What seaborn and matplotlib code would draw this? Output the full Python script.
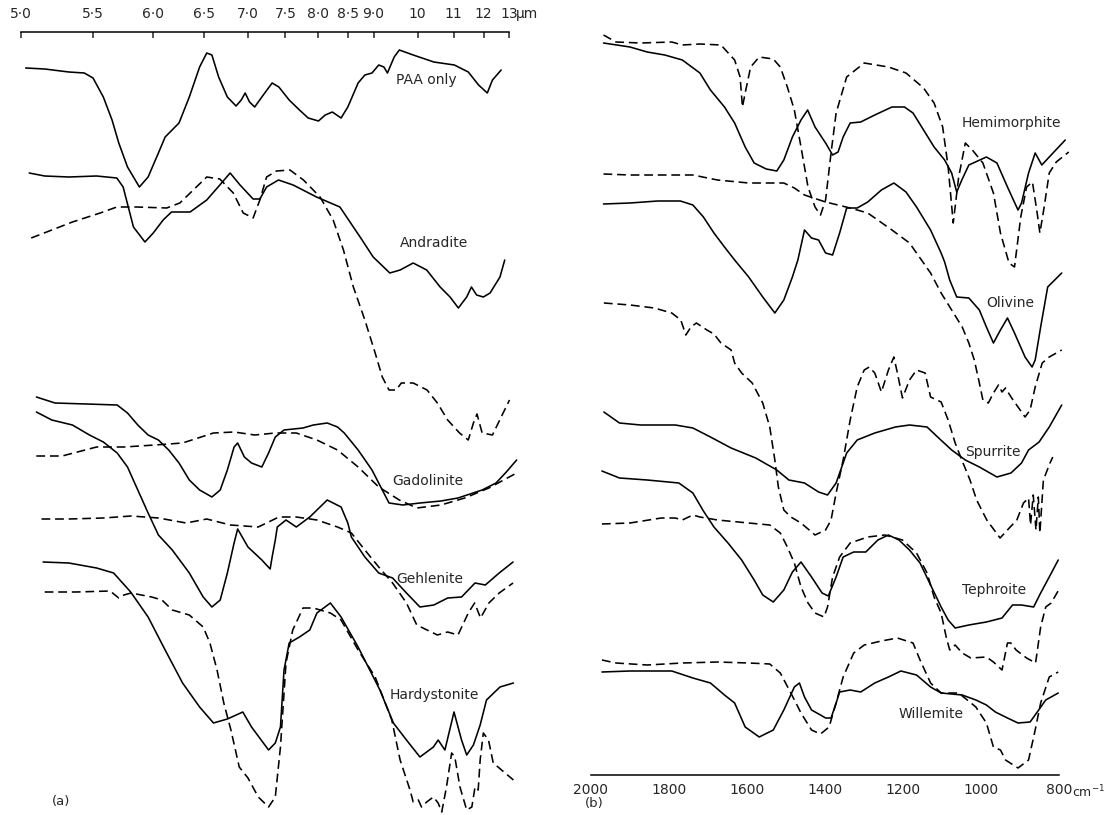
import pandas as pd
import seaborn as sns
import matplotlib.pyplot as plt

# Panel (a): wavenumber (cm-1) and trace height (arbitrary transmittance, stacked)
paa_nu = [1989, 1941, 1880, 1841, 1819, 1793, 1771, 1754, 1732, 1702, 1680, 1654, 1637, 1602, 1576,
          1550, 1532, 1519, 1502, 1480, 1458, 1445, 1435, 1424, 1411, 1393, 1367, 1350, 1324, 1298,
          1276, 1250, 1233, 1215, 1193, 1176, 1150, 1133, 1115, 1098, 1085, 1076, 1059, 1046, 1011,
          959, 907, 872, 846, 824, 811, 789]
paa_t = [747, 746, 743, 742, 737, 718, 695, 672, 648, 628, 638, 662, 678, 692, 718,
         748, 762, 760, 738, 718, 709, 715, 722, 713, 708, 718, 732, 728, 715, 705,
         697, 694, 700, 703, 697, 708, 732, 740, 742, 750, 748, 742, 758, 765, 760,
         753, 750, 743, 730, 722, 735, 745]

andr_s_nu = [1980, 1941, 1880, 1810, 1759, 1743, 1730, 1717, 1688, 1667, 1642, 1621, 1574, 1532, 1499,
             1473, 1448, 1415, 1398, 1381, 1351, 1314, 1255, 1196, 1179, 1145, 1112, 1070, 1044, 1011,
             977, 943, 918, 897, 876, 864, 851, 834, 817, 792, 780]
andr_s_t = [642, 639, 638, 639, 637, 628, 608, 588, 573, 582, 595, 603, 603, 615, 630,
            642, 630, 616, 616, 628, 635, 630, 618, 608, 598, 578, 558, 542, 545, 552,
            545, 528, 518, 507, 518, 528, 520, 518, 522, 538, 555]
andr_d_nu = [1975, 1923, 1871, 1801, 1759, 1709, 1633, 1600, 1532, 1499, 1465, 1440, 1415, 1398, 1381,
             1356, 1322, 1288, 1246, 1213, 1187, 1162, 1133, 1107, 1089, 1072, 1054, 1041, 1011, 976,
             950, 924, 894, 872, 859, 850, 837, 811, 789, 768]
andr_d_t = [577, 585, 593, 602, 608, 608, 607, 612, 638, 636, 622, 602, 597, 615, 638,
            644, 645, 635, 618, 595, 565, 528, 495, 462, 438, 425, 425, 432, 432, 425,
            412, 395, 382, 375, 392, 401, 382, 380, 398, 415]

gado_s_nu = [1962, 1915, 1836, 1758, 1732, 1706, 1680, 1654, 1628, 1602, 1576, 1550, 1519, 1498, 1480,
             1463, 1454, 1437, 1419, 1393, 1376, 1359, 1337, 1289, 1263, 1228, 1202, 1185, 1150, 1115,
             1089, 1072, 1037, 994, 941, 898, 837, 802, 776, 750]
gado_s_t = [418, 412, 411, 410, 402, 390, 380, 375, 365, 352, 335, 325, 318, 325, 345,
            368, 372, 358, 352, 348, 362, 378, 385, 387, 390, 392, 388, 382, 365, 345,
            325, 312, 310, 312, 314, 317, 325, 332, 343, 355]
gado_d_nu = [1962, 1897, 1810, 1741, 1663, 1593, 1515, 1463, 1411, 1359, 1306, 1254, 1202, 1150, 1098,
             1046, 1002, 941, 881, 820, 750]
gado_d_t = [359, 359, 368, 368, 370, 372, 382, 383, 380, 382, 382, 375, 365, 348, 328,
            315, 307, 310, 317, 327, 342]

gehl_s_nu = [1962, 1923, 1871, 1828, 1793, 1758, 1732, 1706, 1680, 1654, 1619, 1576, 1541, 1519, 1498,
             1480, 1463, 1454, 1428, 1393, 1372, 1367, 1359, 1354, 1332, 1306, 1272, 1228, 1193, 1176,
             1167, 1133, 1098, 1063, 1028, 994, 959, 924, 889, 855, 829, 794, 759]
gehl_s_t = [403, 395, 390, 380, 373, 362, 348, 325, 302, 280, 265, 242, 218, 208, 215,
            242, 272, 286, 268, 255, 246, 258, 275, 288, 295, 288, 298, 315, 308, 292,
            278, 258, 242, 237, 222, 208, 210, 217, 218, 232, 230, 242, 253]
gehl_d_nu = [1949, 1880, 1793, 1723, 1654, 1584, 1532, 1472, 1402, 1350, 1306, 1254, 1202, 1167, 1133,
             1098, 1063, 1028, 1002, 976, 950, 924, 898, 872, 856, 841, 820, 794, 759]
gehl_d_t = [296, 296, 297, 299, 297, 292, 296, 290, 288, 298, 298, 295, 288, 282, 265,
            248, 232, 212, 190, 185, 180, 183, 180, 202, 212, 197, 212, 222, 232]

hard_s_nu = [1945, 1880, 1810, 1767, 1724, 1680, 1637, 1593, 1550, 1515, 1480, 1441, 1419, 1376, 1359,
             1346, 1337, 1324, 1298, 1272, 1254, 1220, 1193, 1150, 1095, 1061, 1028, 994, 960, 948,
             931, 908, 889, 876, 859, 842, 826, 792, 758]
hard_s_t = [253, 252, 247, 242, 223, 198, 165, 132, 108, 92, 96, 103, 88, 65, 72,
            88, 145, 172, 178, 185, 202, 212, 198, 168, 125, 92, 75, 58, 68, 75,
            65, 103, 75, 60, 70, 90, 115, 128, 132]
hard_d_nu = [1941, 1862, 1776, 1754, 1741, 1723, 1671, 1645, 1619, 1576, 1541, 1524, 1506, 1489, 1471,
             1450, 1428, 1402, 1376, 1359, 1346, 1332, 1315, 1289, 1263, 1220, 1193, 1150, 1107, 1065,
             1044, 1019, 1011, 998, 990, 977, 960, 948, 939, 927, 914, 906, 893, 876, 863,
             855, 847, 842, 834, 821, 809, 788, 758]
hard_d_t = [223, 223, 224, 217, 220, 222, 218, 215, 205, 200, 188, 172, 145, 112, 85,
            48, 37, 18, 8, 18, 68, 152, 185, 207, 207, 202, 195, 165, 138, 95,
            55, 25, 13, 15, 8, 13, 18, 12, 3, 28, 62, 58, 28, 5, 8,
            28, 25, 55, 82, 75, 52, 45, 35]

# Panel (b)
hemi_s_nu = [1967, 1899, 1855, 1810, 1765, 1720, 1693, 1657, 1631, 1604, 1581, 1550, 1523, 1505, 1483,
             1461, 1444, 1425, 1398, 1380, 1366, 1353, 1335, 1308, 1272, 1228, 1196, 1174, 1147, 1120,
             1093, 1075, 1062, 1049, 1031, 986, 959, 932, 905, 896, 878, 861, 844, 825, 784]
hemi_s_t = [772, 768, 763, 760, 755, 742, 725, 708, 692, 668, 652, 646, 644, 655, 678,
            695, 705, 688, 672, 660, 663, 678, 692, 693, 700, 708, 708, 702, 685, 668,
            655, 642, 623, 635, 650, 658, 652, 628, 605, 612, 642, 662, 650, 658, 675]
hemi_d_nu = [1967, 1935, 1872, 1792, 1765, 1720, 1666, 1631, 1617, 1611, 1604, 1590, 1568, 1532, 1514,
             1496, 1478, 1461, 1443, 1425, 1411, 1398, 1384, 1371, 1344, 1299, 1237, 1192, 1147, 1120,
             1098, 1084, 1071, 1057, 1040, 1022, 995, 968, 950, 928, 914, 898, 883, 868, 856,
             849, 838, 825, 807, 775]
hemi_d_t = [780, 773, 772, 773, 770, 771, 770, 755, 738, 708, 722, 748, 758, 756, 748,
            728, 705, 668, 628, 608, 600, 615, 662, 702, 738, 752, 748, 742, 727, 712,
            688, 648, 592, 638, 672, 665, 652, 622, 582, 552, 548, 598, 628, 633, 602,
            582, 608, 642, 653, 663]

oliv_s_nu = [1967, 1899, 1828, 1770, 1738, 1711, 1684, 1657, 1631, 1595, 1559, 1528, 1505, 1483, 1469,
             1452, 1434, 1416, 1398, 1380, 1362, 1344, 1317, 1290, 1255, 1223, 1192, 1165, 1129, 1102,
             1093, 1080, 1062, 1031, 1004, 986, 968, 950, 932, 914, 887, 869, 861, 847, 829, 793]
oliv_s_t = [611, 612, 614, 614, 610, 598, 582, 568, 555, 538, 518, 502, 515, 538, 555,
            585, 577, 575, 562, 560, 582, 607, 607, 613, 625, 632, 623, 608, 585, 562,
            553, 535, 518, 517, 505, 488, 472, 485, 497, 482, 458, 448, 455, 488, 528, 542]
oliv_d_nu = [1967, 1899, 1810, 1738, 1675, 1595, 1505, 1478, 1452, 1398, 1335, 1290, 1228, 1183, 1147,
             1129, 1102, 1075, 1048, 1031, 1017, 1004, 995, 981, 968, 955, 946, 937, 923, 905,
             887, 874, 861, 843, 825, 793]
oliv_d_t = [641, 640, 640, 640, 635, 632, 632, 627, 620, 613, 607, 602, 585, 572, 552,
            542, 522, 505, 488, 472, 455, 432, 415, 412, 422, 430, 423, 427, 418, 408,
            398, 405, 428, 452, 458, 465]

spur_s_nu = [1966, 1926, 1872, 1783, 1738, 1693, 1640, 1577, 1523, 1492, 1452, 1416, 1393, 1371, 1344,
             1317, 1272, 1219, 1183, 1138, 1111, 1075, 1040, 1004, 959, 923, 896, 878, 851, 825, 793]
spur_s_t = [403, 392, 390, 390, 387, 378, 367, 357, 345, 335, 332, 323, 320, 332, 362,
            375, 382, 388, 390, 388, 378, 365, 355, 348, 338, 342, 352, 365, 373, 388, 410]
spur_d_nu = [1966, 1899, 1837, 1792, 1769, 1756, 1743, 1729, 1702, 1684, 1666, 1640, 1631, 1613, 1586,
             1559, 1541, 1528, 1519, 1505, 1487, 1461, 1425, 1398, 1384, 1371, 1353, 1335, 1317, 1299,
             1286, 1272, 1255, 1237, 1223, 1214, 1201, 1183, 1165, 1143, 1129, 1102, 1084, 1066, 1049,
             1028, 1011, 985, 951, 925, 908, 891, 878, 873, 866, 859, 853, 849, 840, 823, 816]
spur_d_t = [512, 510, 507, 502, 495, 480, 488, 492, 485, 481, 472, 465, 452, 442, 432,
            412, 388, 355, 328, 305, 298, 292, 280, 285, 295, 322, 355, 395, 428, 445,
            448, 442, 423, 445, 458, 442, 417, 435, 445, 442, 418, 413, 395, 372, 355,
            335, 315, 295, 277, 288, 295, 312, 317, 290, 320, 285, 318, 282, 335, 352, 358]

teph_s_nu = [1971, 1926, 1855, 1774, 1738, 1711, 1684, 1648, 1613, 1581, 1559, 1532, 1505, 1483, 1461,
             1434, 1407, 1391, 1371, 1353, 1326, 1295, 1264, 1237, 1210, 1183, 1156, 1129, 1102, 1084,
             1066, 1031, 986, 946, 919, 896, 865, 847, 825, 802]
teph_s_t = [344, 337, 335, 332, 322, 304, 288, 272, 255, 235, 220, 213, 225, 243, 253,
            238, 222, 219, 238, 258, 263, 263, 275, 280, 275, 265, 252, 230, 208, 195,
            187, 190, 193, 197, 210, 210, 208, 222, 238, 255]
teph_d_nu = [1971, 1899, 1819, 1783, 1765, 1738, 1720, 1675, 1595, 1541, 1514, 1496, 1478, 1461, 1443,
             1425, 1402, 1393, 1380, 1362, 1335, 1290, 1246, 1201, 1165, 1138, 1120, 1102, 1089, 1080,
             1066, 1048, 1026, 986, 968, 946, 932, 923, 910, 883, 860, 847, 834, 820, 798]
teph_d_t = [291, 292, 297, 297, 295, 300, 298, 295, 292, 290, 282, 268, 252, 228, 212,
            202, 198, 208, 238, 258, 272, 278, 280, 275, 262, 242, 218, 202, 178, 165,
            170, 162, 157, 158, 153, 145, 172, 172, 165, 157, 152, 188, 208, 212, 227]

will_s_nu = [1971, 1899, 1792, 1738, 1693, 1657, 1631, 1604, 1568, 1532, 1505, 1478, 1465, 1452, 1434,
             1411, 1398, 1384, 1371, 1362, 1335, 1308, 1272, 1237, 1205, 1165, 1129, 1102, 1048, 1013,
             986, 963, 932, 905, 874, 852, 834, 802]
will_s_t = [143, 144, 144, 137, 132, 120, 112, 88, 78, 85, 105, 128, 132, 118, 105,
            100, 97, 97, 112, 123, 125, 123, 132, 138, 144, 140, 128, 122, 120, 115,
            110, 103, 97, 92, 93, 105, 115, 122]
will_d_nu = [1971, 1935, 1855, 1765, 1675, 1595, 1541, 1514, 1487, 1461, 1434, 1411, 1389, 1371, 1353,
             1326, 1299, 1255, 1214, 1174, 1156, 1129, 1102, 1057, 1013, 986, 968, 950, 937, 905,
             878, 861, 847, 825, 802]
will_d_t = [155, 152, 150, 152, 153, 152, 151, 142, 122, 102, 85, 81, 88, 112, 138,
            162, 170, 174, 177, 172, 155, 132, 122, 122, 108, 92, 68, 65, 55, 47,
            55, 85, 112, 138, 143]

panel_a = [(paa_nu, paa_t, "-"),
           (andr_s_nu, andr_s_t, "-"), (andr_d_nu, andr_d_t, "--"),
           (gado_s_nu, gado_s_t, "-"), (gado_d_nu, gado_d_t, "--"),
           (gehl_s_nu, gehl_s_t, "-"), (gehl_d_nu, gehl_d_t, "--"),
           (hard_s_nu, hard_s_t, "-"), (hard_d_nu, hard_d_t, "--")]
panel_b = [(hemi_s_nu, hemi_s_t, "-"), (hemi_d_nu, hemi_d_t, "--"),
           (oliv_s_nu, oliv_s_t, "-"), (oliv_d_nu, oliv_d_t, "--"),
           (spur_s_nu, spur_s_t, "-"), (spur_d_nu, spur_d_t, "--"),
           (teph_s_nu, teph_s_t, "-"), (teph_d_nu, teph_d_t, "--"),
           (will_s_nu, will_s_t, "-"), (will_d_nu, will_d_t, "--")]

# labels: (text, wavenumber of left edge, height)
labels_a = [("PAA only", 1054, 735), ("Andradite", 1044, 572), ("Gadolinite", 1063, 334),
            ("Gehlenite", 1054, 236), ("Hardystonite", 1070, 120)]
labels_b = [("Hemimorphite", 1049, 692), ("Olivine", 986, 512), ("Spurrite", 1041, 363),
            ("Tephroite", 1049, 225), ("Willemite", 1210, 101)]

um_ticks = [5.0, 5.5, 6.0, 6.5, 7.0, 7.5, 8.0, 8.5, 9.0, 10, 11, 12, 13]
um_labels = ["5·0", "5·5", "6·0", "6·5", "7·0", "7·5", "8·0", "8·5", "9·0", "10", "11", "12", "13"]
cm_ticks = [2000, 1800, 1600, 1400, 1200, 1000, 800]

sns.set_style("white")
plt.rcParams["font.family"] = ["DejaVu Sans"]
plt.rcParams["font.size"] = 10

fig = plt.figure(figsize=(11.08, 8.15), dpi=100)
ax_a = fig.add_axes([21.3 / 1108, 0, 487.7 / 1108, 783 / 815])
ax_b = fig.add_axes([590.6 / 1108, 40 / 815, 468.4 / 1108, 775 / 815])


def draw(ax, traces):
    for nu, t, ls in traces:
        df = pd.DataFrame({"wavenumber": nu, "T": t})
        sns.lineplot(data=df, x="wavenumber", y="T", ax=ax, color="black",
                     linewidth=1.15, sort=False, estimator=None, clip_on=False,
                     linestyle="-" if ls == "-" else (0, (5.5, 3)))
    ax.set_xlabel("")
    ax.set_ylabel("")
    ax.set_yticks([])


draw(ax_a, panel_a)
draw(ax_b, panel_b)

ax_a.set_xlim(2000, 10000 / 13)
ax_a.set_ylim(0, 783)
ax_b.set_xlim(2000, 800)
ax_b.set_ylim(40, 815)

for ax in (ax_a, ax_b):
    for s in ax.spines.values():
        s.set_visible(False)
        s.set_linewidth(1.1)
        s.set_color("black")

ax_a.spines["top"].set_visible(True)
ax_a.xaxis.set_ticks_position("top")
ax_a.set_xticks([10000 / u for u in um_ticks], um_labels)
ax_a.tick_params(axis="x", direction="in", length=4, width=1.1, pad=8, labelsize=10,
                 top=True, bottom=False, labeltop=True, labelbottom=False)
ax_a.annotate("µm", xy=(10000 / 13, 1), xycoords=("data", "axes fraction"),
              xytext=(5, 8), textcoords="offset points", ha="left", va="bottom", fontsize=10)

ax_b.spines["bottom"].set_visible(True)
ax_b.set_xticks(cm_ticks, [str(c) for c in cm_ticks])
ax_b.tick_params(axis="x", direction="in", length=4, width=1.1, pad=6, labelsize=10)
ax_b.annotate("cm$^{-1}$", xy=(800, 0), xycoords=("data", "axes fraction"),
              xytext=(9, -6), textcoords="offset points", ha="left", va="top", fontsize=9)

for ax, labels in ((ax_a, labels_a), (ax_b, labels_b)):
    for text, nu, t in labels:
        ax.text(nu, t, text, ha="left", va="center", fontsize=10)

ax_a.text(1922, 13, "(a)", ha="left", va="center", fontsize=9.5, clip_on=False)
ax_b.text(2015, 11, "(b)", ha="left", va="center", fontsize=9.5, clip_on=False)

fig.savefig("out.png", dpi=100, facecolor="white")
plt.close(fig)
